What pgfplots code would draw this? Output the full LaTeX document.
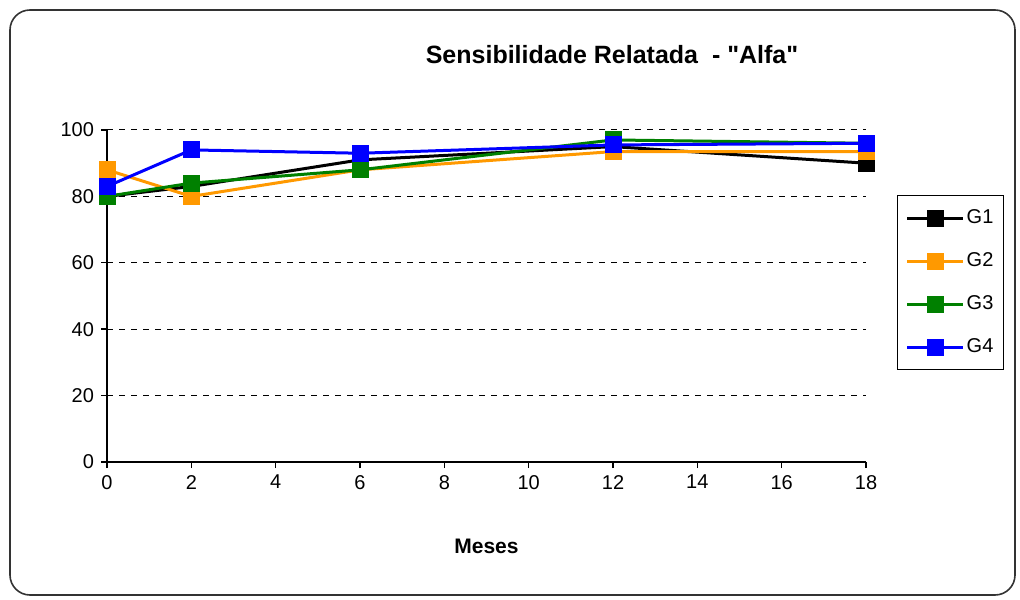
\documentclass[border=0pt]{standalone}
\usepackage{pgfplots}
\pgfplotsset{compat=1.18}
\usepackage{fontspec}
\setmainfont{Liberation Sans}
\newfontfamily\plainfont{Liberation Sans}[Ligatures=TeXOff]
\definecolor{xlorange}{RGB}{255,153,0}
\definecolor{xlgreen}{RGB}{0,128,0}
\definecolor{xlblue}{RGB}{0,0,255}
\begin{document}
\begin{tikzpicture}
\useasboundingbox (0,0) rectangle (510pt,299.5pt);
\draw[line width=0.8pt, black!80, rounded corners=10pt] (5pt,2pt) rectangle (507.5pt,294.5pt);
\node[font=\plainfont\bfseries\fontsize{12.5}{14}\selectfont] at (306pt,272pt) {Sensibilidade Relatada \ - "Alfa"};
\begin{axis}[
    at={(53.5pt,68.5pt)}, anchor=south west,
    scale only axis, width=379.5pt, height=166pt,
    xmin=0, xmax=18, ymin=0, ymax=100,
    xtick={0,2,...,18}, ytick={0,20,...,100},
    axis x line=bottom, axis y line=left,
    axis line style={-, line width=0.7pt},
    tick align=outside, major tick length=3pt,
    tick style={line width=0.7pt, black},
    ymajorgrids, grid style={dashed, black, line width=0.5pt},
    ticklabel style={font=\fontsize{10}{12}\selectfont},
    /pgf/number format/assume math mode=true,
    xlabel={\bfseries Meses}, xlabel style={font=\fontsize{10.5}{12}\selectfont, yshift=-18pt},
    clip=false,
    every axis plot/.append style={line width=1.5pt, mark=square*, mark size=3.5pt},
    legend image code/.code={
        \draw[mark repeat=2, mark phase=2] plot coordinates {(0pt,0pt) (14pt,0pt) (28pt,0pt)};
    },
    legend style={at={(1.041,0.804)}, anchor=north west, draw=black, line width=0.6pt,
        font=\fontsize{10}{12}\selectfont, row sep=9pt, inner xsep=4pt, inner ysep=5pt,
        nodes={inner xsep=1pt}},
    legend cell align=left,
]
\addplot[black, mark options={fill=black}] coordinates {(0,80) (2,83) (6,91) (12,95) (18,90)};
\addplot[xlorange, mark options={fill=xlorange}] coordinates {(0,88) (2,80) (6,88) (12,93.5) (18,93.5)};
\addplot[xlgreen, mark options={fill=xlgreen}] coordinates {(0,80) (2,84) (6,88) (12,97) (18,96)};
\addplot[xlblue, mark options={fill=xlblue}] coordinates {(0,83) (2,94) (6,93) (12,95.5) (18,96)};
\legend{G1,G2,G3,G4}
\end{axis}
\end{tikzpicture}
\end{document}
